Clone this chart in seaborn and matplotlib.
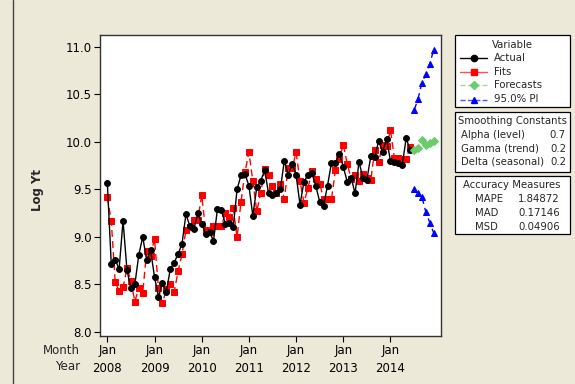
import numpy as np
import pandas as pd
import matplotlib
matplotlib.use("Agg")
import matplotlib.pyplot as plt
from matplotlib.patches import Rectangle
from matplotlib.lines import Line2D
import seaborn as sns

# ---------------- data ----------------
actual = [9.57, 8.72, 8.76, 8.66, 9.17, 8.65, 8.46, 8.50, 8.81, 9.00, 8.76, 8.86,
          8.58, 8.37, 8.52, 8.42, 8.66, 8.73, 8.82, 8.93, 9.24, 9.11, 9.08, 9.25,
          9.14, 9.03, 9.05, 8.96, 9.29, 9.28, 9.14, 9.15, 9.10, 9.50, 9.65, 9.66,
          9.54, 9.22, 9.52, 9.59, 9.70, 9.46, 9.44, 9.46, 9.50, 9.80, 9.65, 9.77,
          9.65, 9.34, 9.58, 9.65, 9.67, 9.54, 9.37, 9.33, 9.54, 9.78, 9.78, 9.87,
          9.74, 9.58, 9.62, 9.46, 9.79, 9.62, 9.60, 9.85, 9.84, 10.01, 9.89, 10.03,
          9.80, 9.79, 9.78, 9.76, 10.04, 9.91]
fits = [9.42, 9.17, 8.53, 8.43, 8.47, 8.67, 8.54, 8.32, 8.46, 8.41, 8.85, 8.80,
        8.98, 8.46, 8.30, 8.45, 8.50, 8.42, 8.64, 8.82, 9.07, 9.10, 9.18, 9.18,
        9.44, 9.07, 9.05, 9.11, 9.11, 9.11, 9.25, 9.21, 9.30, 9.00, 9.37, 9.68,
        9.89, 9.59, 9.27, 9.46, 9.71, 9.65, 9.53, 9.46, 9.56, 9.40, 9.72, 9.72,
        9.89, 9.59, 9.36, 9.51, 9.69, 9.61, 9.56, 9.40, 9.40, 9.40, 9.70, 9.82,
        9.97, 9.77, 9.61, 9.65, 9.59, 9.66, 9.62, 9.60, 9.91, 9.79, 9.97, 9.96,
        10.12, 9.83, 9.83, 9.82, 9.82, 9.95]
forecasts = [9.91, 9.94, 10.02, 9.97, 9.99, 10.01]
pi_upper = [10.33, 10.45, 10.62, 10.71, 10.82, 10.97]
pi_lower = [9.50, 9.46, 9.42, 9.26, 9.15, 9.04]
year_labels = ["2008", "2009", "2010", "2011", "2012", "2013", "2014"]
smoothing_names = ["Alpha (level)", "Gamma (trend)", "Delta (seasonal)"]
smoothing_vals = ["0.7", "0.2", "0.2"]
accuracy_names = ["MAPE", "MAD", "MSD"]
accuracy_vals = ["1.84872", "0.17146", "0.04906"]

t_act = np.arange(len(actual))
t_fc = np.arange(len(actual), len(actual) + len(forecasts))

# ---------------- figure ----------------
W, H = 575, 384
BG = "#ECE9D8"
sns.set_theme(style="white")
plt.rcParams["font.family"] = ["DejaVu Sans"]

fig = plt.figure(figsize=(W / 100, H / 100), dpi=100, facecolor=BG)


def fx(x):
    return x / W


def fy(y):
    return 1 - y / H


ax = fig.add_axes([fx(100), fy(336), (441 - 100) / W, (336 - 35) / H])
ax.set_facecolor("white")

GREEN = "#6CCB6C"
DASH = (0, (5, 3))
sns.lineplot(x=t_act, y=fits, ax=ax, color="red", marker="s", markersize=4,
             markeredgecolor="red", linewidth=1.0, linestyle=DASH)
sns.lineplot(x=t_act, y=actual, ax=ax, color="black", marker="o", markersize=4.2,
             markeredgecolor="black", linewidth=1.0)
sns.lineplot(x=t_fc, y=forecasts, ax=ax, color=GREEN, marker="D", markersize=3.8,
             markeredgecolor=GREEN, linewidth=1.0, linestyle=DASH)
sns.lineplot(x=t_fc, y=pi_upper, ax=ax, color="blue", marker="^", markersize=4.8,
             markeredgecolor="blue", linewidth=1.0, linestyle=DASH)
sns.lineplot(x=t_fc, y=pi_lower, ax=ax, color="blue", marker="^", markersize=4.8,
             markeredgecolor="blue", linewidth=1.0, linestyle=DASH)

ax.set_xlim(-1.86, 84.85)
ax.set_ylim(7.958, 11.123)
yt = [8.0, 8.5, 9.0, 9.5, 10.0, 10.5, 11.0]
ax.set_yticks(yt)
ax.set_yticklabels([f"{v:.1f}" for v in yt])
ax.set_xticks(np.arange(0, 73, 12))
ax.set_xticklabels(["Jan\n" + y for y in year_labels], linespacing=1.45)
ax.set_xlabel("")
ax.set_ylabel("")
ax.tick_params(axis="both", which="major", direction="out", length=4, width=0.8,
               color="black", labelsize=8.5, labelcolor="black", pad=2,
               left=True, bottom=True)
for s in ax.spines.values():
    s.set_color("#333333")
    s.set_linewidth(1.0)
ax.grid(False)

fig.text(fx(80), fy(351), "Month", ha="right", va="center", fontsize=8.5)
fig.text(fx(80), fy(367), "Year", ha="right", va="center", fontsize=8.5)
fig.text(fx(38), fy(190), "Log Yt", ha="center", va="center", rotation=90,
         fontsize=8.5, fontweight="bold")

# left border line
fig.add_artist(Line2D([fx(12.5), fx(12.5)], [0, 1], transform=fig.transFigure,
                      color="#444444", lw=1))

# ---------------- side boxes ----------------
LFS = 7.3


def box(y0, y1):
    fig.add_artist(Rectangle((fx(455), fy(y1)), (570 - 455) / W, (y1 - y0) / H,
                             transform=fig.transFigure, facecolor="white",
                             edgecolor="black", lw=0.9))


box(35, 107)
box(112, 172)
box(176, 234)

fig.text(fx(512), fy(45), "Variable", ha="center", va="center", fontsize=LFS)
handles = [("Actual", "black", "o", "-", "black"),
           ("Fits", "#FF5050", "s", "-", "red"),
           ("Forecasts", "#9AD99A", "D", "--", GREEN),
           ("95.0% PI", "#5050FF", "^", "--", "blue")]
for k, (lab, lc, mk, ls, mc) in enumerate(handles):
    yy = fy([58, 72, 85, 99.5][k])
    fig.add_artist(Line2D([fx(460), fx(487)], [yy, yy], transform=fig.transFigure,
                          color=lc, lw=1.0, linestyle=ls))
    fig.add_artist(Line2D([fx(473.5)], [yy], transform=fig.transFigure,
                          color=mc, marker=mk, markersize=4.5 if mk != "D" else 4.2,
                          markeredgecolor=mc, linestyle="none"))
    fig.text(fx(494), yy, lab, ha="left", va="center", fontsize=LFS)

fig.text(fx(512), fy(121), "Smoothing Constants", ha="center", va="center", fontsize=LFS)
for k, (n, v) in enumerate(zip(smoothing_names, smoothing_vals)):
    yy = fy([135, 148.5, 162][k])
    fig.text(fx(461), yy, n, ha="left", va="center", fontsize=LFS)
    fig.text(fx(566), yy, v, ha="right", va="center", fontsize=LFS)

fig.text(fx(512), fy(185), "Accuracy Measures", ha="center", va="center", fontsize=LFS)
for k, (n, v) in enumerate(zip(accuracy_names, accuracy_vals)):
    yy = fy([199, 213, 227][k])
    fig.text(fx(475), yy, n, ha="left", va="center", fontsize=LFS)
    fig.text(fx(518), yy, v, ha="left", va="center", fontsize=LFS)

fig.savefig("out.png", dpi=100, facecolor=BG)
